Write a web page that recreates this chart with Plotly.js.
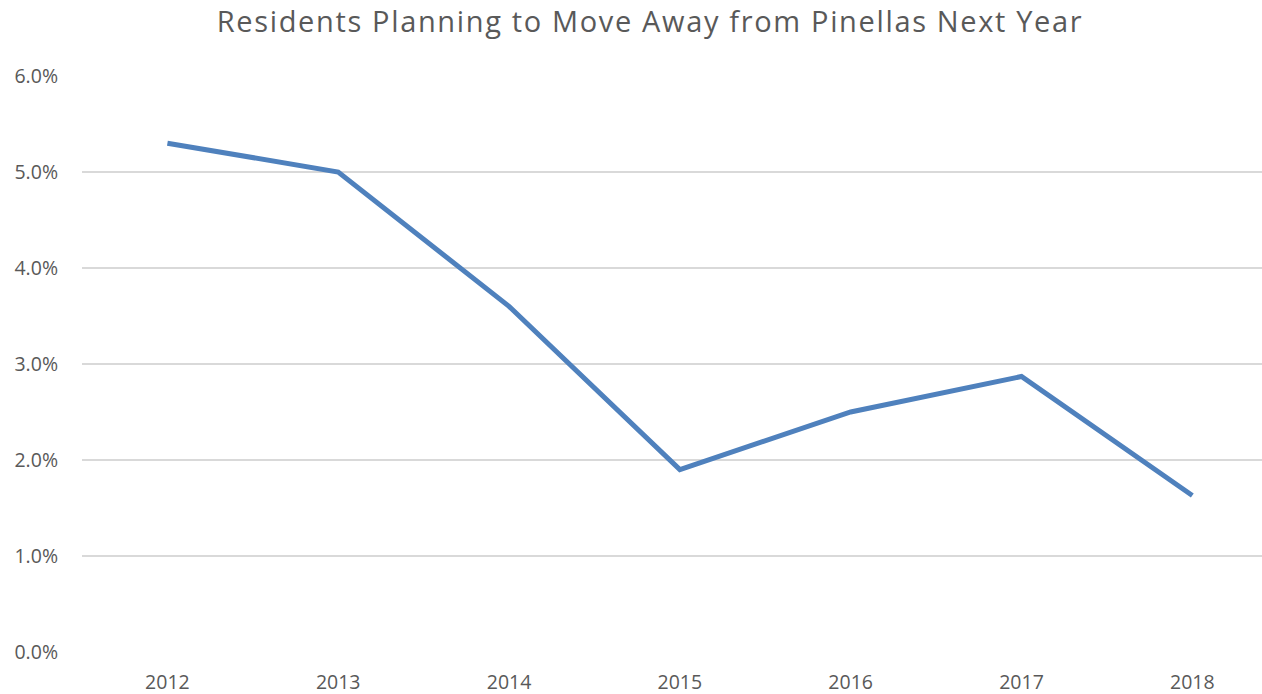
<!DOCTYPE html>
<html>
<head>
<meta charset="utf-8">
<script src="https://cdn.plot.ly/plotly-3.0.1.min.js"></script>
<style>
  html, body { margin: 0; padding: 0; background: #ffffff; }
  #chart { width: 1262px; height: 694px; }
  /* slightly looser tracking for the chart heading */
  #chart .gtitle { letter-spacing: 1.65px; }
</style>
</head>
<body>
<div id="chart"></div>
<script>
// Share of residents planning to move away from Pinellas in the following year
const years = ['2012', '2013', '2014', '2015', '2016', '2017', '2018'];
const movingShare = [0.053, 0.050, 0.036, 0.019, 0.025, 0.0287, 0.0163];
const yTickValues = [0, 0.01, 0.02, 0.03, 0.04, 0.05, 0.06];

const FONT = '"Open Sans", Lato, sans-serif';

const trace = {
  x: years,
  y: movingShare,
  type: 'scatter',
  mode: 'lines',
  line: { color: '#4f81bd', width: 5 },
  hoverinfo: 'x+y'
};

const layout = {
  width: 1262,
  height: 694,
  paper_bgcolor: '#ffffff',
  plot_bgcolor: '#ffffff',
  margin: { l: 82, r: 0, t: 76, b: 42 },
  showlegend: false,
  title: {
    text: 'Residents Planning to Move Away from Pinellas Next Year',
    font: { family: FONT, size: 29, color: '#595959' },
    xref: 'paper',
    x: 0.4814, xanchor: 'center',
    y: 0.968, yanchor: 'middle'
  },
  xaxis: {
    type: 'category',
    range: [-0.5, 6.408],
    showgrid: false,
    zeroline: false,
    showline: false,
    ticks: '',
    tickfont: { family: FONT, size: 19.5, color: '#595959' },
    ticklabelstandoff: 16
  },
  yaxis: {
    range: [0, 0.06],
    tickvals: yTickValues,
    tickformat: '.1%',
    showgrid: true,
    gridcolor: '#d9d9d9',
    gridwidth: 1.5,
    zeroline: false,
    showline: false,
    ticks: '',
    tickfont: { family: FONT, size: 19.5, color: '#595959' },
    ticklabelstandoff: 23
  }
};

Plotly.newPlot('chart', [trace], layout, { displayModeBar: false, staticPlot: true });
</script>
</body>
</html>
